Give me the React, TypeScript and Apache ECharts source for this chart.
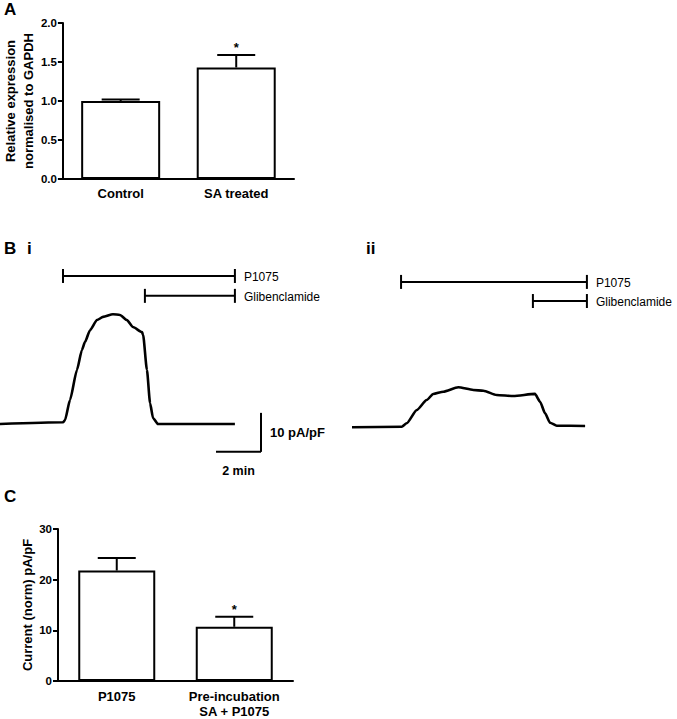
import React, { useEffect, useRef } from "react";
import * as echarts from "echarts";

// ---------- Panel A data ----------
const categoriesA = ["Control", "SA treated"];
const meanA = [1.0, 1.43];
const semA = [0.02, 0.16];
const sigA = ["", "*"];

// ---------- Panel C data ----------
const categoriesC = ["P1075", "Pre-incubation\nSA + P1075"];
const meanC = [21.8, 10.7];
const semC = [2.5, 2.0];
const sigC = ["", "*"];

// ---------- Panel B i trace (time min, current pA/pF) ----------
const traceITime = [0, 2.8, 2.89, 3.11, 3.42, 3.64, 3.78, 4.0, 4.31, 4.58, 5.02, 5.33, 5.64, 5.91, 6.31, 6.36, 6.53, 6.67, 6.8, 7.02, 10.44];
const traceIValue = [-0.26, 0.18, 0.77, 5.9, 13.6, 18.7, 20.8, 23.8, 26.4, 27.2, 27.9, 27.7, 26.4, 24.6, 23.3, 22.6, 13.6, 5.1, 1.3, -0.26, -0.26];

// ---------- Panel B ii trace ----------
const traceIITime = [0, 2.21, 2.43, 2.88, 3.32, 3.61, 4.06, 4.72, 5.39, 5.84, 6.43, 7.17, 8.13, 8.36, 8.58, 8.8, 9.1, 10.36];
const traceIIValue = [-0.08, 0.08, 0.95, 4.36, 6.92, 8.46, 9.05, 10.2, 9.49, 9.31, 8.21, 7.95, 8.49, 6.49, 3.51, 1.1, 0.33, 0.26];

// ---------- Drug application bars ----------
const drugLabels = ["P1075", "Glibenclamide"];
const drugStartI = [2.8, 6.44];
const drugEndI = [10.44, 10.44];
const drugLevelI = [37.7, 32.6];
const drugStartII = [2.18, 8.04];
const drugEndII = [10.44, 10.44];
const drugLevelII = [37.2, 32.3];

// ---------- Scale bar (in panel B i units) ----------
const scaleTimeStart = 9.6;
const scaleTimeLen = 2; // min
const scaleCurrentTop = 2.6;
const scaleCurrentLen = 10; // pA/pF
const scaleLabels = ["10 pA/pF", "2 min"];

const FONT = "'Liberation Sans', Arial, Helvetica, sans-serif";

function zip(a: number[], b: number[]) {
  return a.map((v, i) => [v, b[i]]);
}

function errorRender(sig: string[]) {
  return (params: any, api: any) => {
    const c = api.value(0);
    const m = api.value(1);
    const s = api.value(2);
    const base = api.coord([c, m]);
    const top = api.coord([c, m + s]);
    const children: any[] = [
      { type: "line", shape: { x1: top[0], y1: base[1], x2: top[0], y2: top[1] }, style: { stroke: "#000", lineWidth: 2 } },
      { type: "line", shape: { x1: top[0] - 19, y1: top[1], x2: top[0] + 19, y2: top[1] }, style: { stroke: "#000", lineWidth: 2 } },
    ];
    const t = sig[params.dataIndex];
    if (t) {
      children.push({
        type: "text",
        x: top[0],
        y: top[1] - 7,
        style: { text: t, fontSize: 13, fontWeight: "bold", fontFamily: FONT, fill: "#000", align: "center", verticalAlign: "middle" },
      });
    }
    return { type: "group", children };
  };
}

function drugRender(params: any, api: any) {
  const s = api.coord([api.value(0), api.value(2)]);
  const e = api.coord([api.value(1), api.value(2)]);
  const st = { stroke: "#000", lineWidth: 2 };
  return {
    type: "group",
    children: [
      { type: "line", shape: { x1: s[0], y1: s[1], x2: e[0], y2: e[1] }, style: st },
      { type: "line", shape: { x1: s[0], y1: s[1] - 7, x2: s[0], y2: s[1] + 7 }, style: st },
      { type: "line", shape: { x1: e[0], y1: e[1] - 7, x2: e[0], y2: e[1] + 7 }, style: st },
      {
        type: "text",
        x: e[0] + 9,
        y: e[1] + 1,
        style: { text: drugLabels[params.dataIndex], fontSize: 12, fontFamily: FONT, fill: "#000", align: "left", verticalAlign: "middle" },
      },
    ],
  };
}

function scaleRender(params: any, api: any) {
  const t0 = api.value(0);
  const tl = api.value(1);
  const c0 = api.value(2);
  const cl = api.value(3);
  const vTop = api.coord([t0 + tl, c0]);
  const corner = api.coord([t0 + tl, c0 - cl]);
  const left = api.coord([t0, c0 - cl]);
  const st = { stroke: "#000", lineWidth: 2 };
  return {
    type: "group",
    children: [
      { type: "line", shape: { x1: vTop[0], y1: vTop[1], x2: corner[0], y2: corner[1] }, style: st },
      { type: "line", shape: { x1: left[0], y1: left[1], x2: corner[0], y2: corner[1] }, style: st },
      {
        type: "text",
        x: corner[0] + 9,
        y: (vTop[1] + corner[1]) / 2,
        style: { text: scaleLabels[0], fontSize: 13, fontWeight: "bold", fontFamily: FONT, fill: "#000", align: "left", verticalAlign: "middle" },
      },
      {
        type: "text",
        x: (left[0] + corner[0]) / 2,
        y: corner[1] + 19,
        style: { text: scaleLabels[1], fontSize: 12.5, fontWeight: "bold", fontFamily: FONT, fill: "#000", align: "center", verticalAlign: "middle" },
      },
    ],
  };
}

const axisTextStyle = { color: "#000", fontWeight: "bold" as const, fontFamily: FONT };

export default function App() {
  const ref = useRef<HTMLDivElement>(null);
  useEffect(() => {
    if (!ref.current) return;
    const chart = echarts.init(ref.current, undefined, { renderer: "svg" });
    const hidden = { show: false };
    const option: any = {
      animation: false,
      backgroundColor: "#fff",
      textStyle: { fontFamily: FONT },
      grid: [
        { left: 59, top: 23, width: 235, height: 156 },
        { left: 0, top: 267, width: 300, height: 214.5 },
        { left: 352, top: 271, width: 300, height: 214.5 },
        { left: 58, top: 529, width: 235, height: 154 },
      ],
      xAxis: [
        {
          gridIndex: 0,
          type: "category",
          data: categoriesA,
          axisLine: { lineStyle: { color: "#000", width: 2 } },
          axisTick: { alignWithLabel: true, length: 5, lineStyle: { color: "#000", width: 2 } },
          axisLabel: { ...axisTextStyle, fontSize: 13, margin: 8, interval: 0 },
        },
        { gridIndex: 1, type: "value", min: 0, max: 13.333, ...hidden },
        { gridIndex: 2, type: "value", min: 0, max: 13.333, ...hidden },
        {
          gridIndex: 3,
          type: "category",
          data: categoriesC,
          axisLine: { lineStyle: { color: "#000", width: 2 } },
          axisTick: { alignWithLabel: true, length: 5, lineStyle: { color: "#000", width: 2 } },
          axisLabel: { ...axisTextStyle, fontSize: 13, margin: 8, lineHeight: 15, interval: 0, hideOverlap: false },
        },
      ],
      yAxis: [
        {
          gridIndex: 0,
          type: "value",
          min: 0,
          max: 2,
          interval: 0.5,
          name: "Relative expression\nnormalised to GAPDH",
          nameLocation: "middle",
          nameGap: 22,
          nameTextStyle: { ...axisTextStyle, fontSize: 13, lineHeight: 18 },
          splitLine: { show: false },
          axisLine: { show: true, lineStyle: { color: "#000", width: 2 } },
          axisTick: { show: true, length: 5, lineStyle: { color: "#000", width: 2 } },
          axisLabel: { ...axisTextStyle, fontSize: 11.5, margin: 6, formatter: (v: number) => v.toFixed(1) },
        },
        { gridIndex: 1, type: "value", min: -15, max: 40, ...hidden },
        { gridIndex: 2, type: "value", min: -15, max: 40, ...hidden },
        {
          gridIndex: 3,
          type: "value",
          min: 0,
          max: 30,
          interval: 10,
          name: "Current (norm) pA/pF",
          nameLocation: "middle",
          nameGap: 24,
          nameTextStyle: { ...axisTextStyle, fontSize: 13 },
          splitLine: { show: false },
          axisLine: { show: true, lineStyle: { color: "#000", width: 2 } },
          axisTick: { show: true, length: 5, lineStyle: { color: "#000", width: 2 } },
          axisLabel: { ...axisTextStyle, fontSize: 11.5, margin: 6 },
        },
      ],
      series: [
        {
          type: "bar",
          xAxisIndex: 0,
          yAxisIndex: 0,
          data: meanA,
          barWidth: 79,
          itemStyle: { color: "#fff", borderColor: "#000", borderWidth: 2 },
        },
        {
          type: "custom",
          xAxisIndex: 0,
          yAxisIndex: 0,
          data: meanA.map((m, i) => [i, m, semA[i]]),
          renderItem: errorRender(sigA),
          z: 3,
        },
        {
          type: "bar",
          xAxisIndex: 3,
          yAxisIndex: 3,
          data: meanC,
          barWidth: 77,
          itemStyle: { color: "#fff", borderColor: "#000", borderWidth: 2 },
        },
        {
          type: "custom",
          xAxisIndex: 3,
          yAxisIndex: 3,
          data: meanC.map((m, i) => [i, m, semC[i]]),
          renderItem: errorRender(sigC),
          z: 3,
        },
        {
          type: "line",
          xAxisIndex: 1,
          yAxisIndex: 1,
          data: zip(traceITime, traceIValue),
          showSymbol: false,
          symbol: "none",
          lineStyle: { color: "#000", width: 2.6 },
          smooth: 0.2,
          smoothMonotone: "x",
        },
        {
          type: "line",
          xAxisIndex: 2,
          yAxisIndex: 2,
          data: zip(traceIITime, traceIIValue),
          showSymbol: false,
          symbol: "none",
          lineStyle: { color: "#000", width: 2.6 },
          smooth: 0.2,
          smoothMonotone: "x",
        },
        {
          type: "custom",
          xAxisIndex: 1,
          yAxisIndex: 1,
          clip: false,
          data: drugStartI.map((s, i) => [s, drugEndI[i], drugLevelI[i]]),
          renderItem: drugRender,
        },
        {
          type: "custom",
          xAxisIndex: 2,
          yAxisIndex: 2,
          clip: false,
          data: drugStartII.map((s, i) => [s, drugEndII[i], drugLevelII[i]]),
          renderItem: drugRender,
        },
        {
          type: "custom",
          xAxisIndex: 1,
          yAxisIndex: 1,
          clip: false,
          data: [[scaleTimeStart, scaleTimeLen, scaleCurrentTop, scaleCurrentLen]],
          renderItem: scaleRender,
        },
      ],
      graphic: [
        { type: "text", left: 4, top: 1, style: { text: "A", fontSize: 17, fontWeight: "bold", fontFamily: FONT, fill: "#000" } },
        { type: "text", left: 4, top: 240, style: { text: "B", fontSize: 17, fontWeight: "bold", fontFamily: FONT, fill: "#000" } },
        { type: "text", left: 27, top: 240, style: { text: "i", fontSize: 17, fontWeight: "bold", fontFamily: FONT, fill: "#000" } },
        { type: "text", left: 366, top: 240, style: { text: "ii", fontSize: 17, fontWeight: "bold", fontFamily: FONT, fill: "#000" } },
        { type: "text", left: 4, top: 488, style: { text: "C", fontSize: 17, fontWeight: "bold", fontFamily: FONT, fill: "#000" } },
      ],
    };
    chart.setOption(option);
    return () => chart.dispose();
  }, []);
  return <div ref={ref} style={{ position: "absolute", left: 0, top: 0, width: 677, height: 719 }} />;
}
